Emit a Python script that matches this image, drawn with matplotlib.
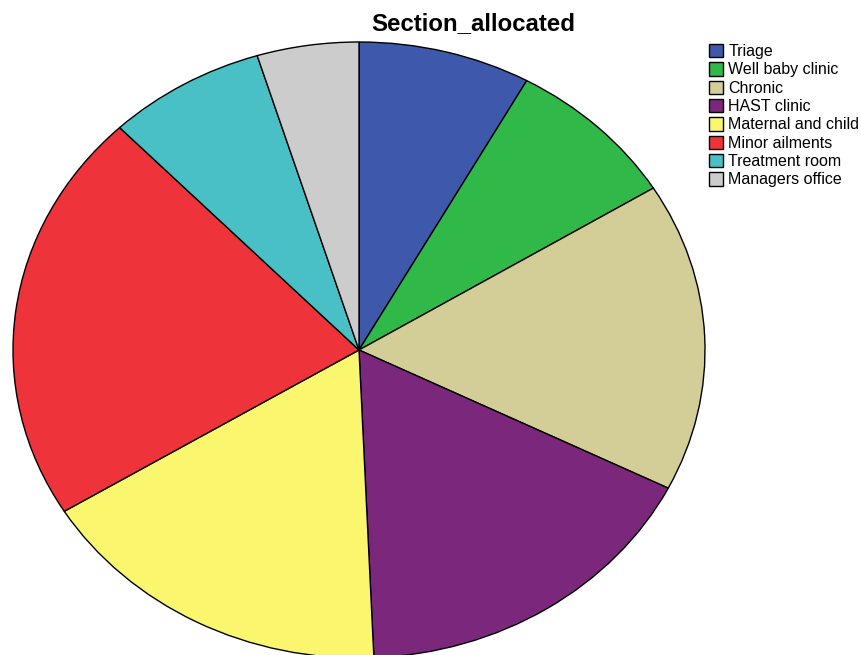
import matplotlib
matplotlib.use("Agg")
import matplotlib.pyplot as plt

plt.rcParams['font.family'] = ['Liberation Sans', 'DejaVu Sans']

categories = ["Triage", "Well baby clinic", "Chronic", "HAST clinic",
              "Maternal and child", "Minor ailments", "Treatment room", "Managers office"]
values = [8.05, 8.13, 16.2, 16.9, 16.9, 21.6, 7.4, 4.75]
colors = ["#3E58AC", "#30B848", "#D3CE98", "#7B287C", "#FAF76E", "#EF333A", "#48C0C6", "#CCCCCC"]

W, H = 861, 655
fig = plt.figure(figsize=(W / 100, H / 100), dpi=100)
# ellipse: x 13..705, y 42..658 (pixels from top)
ax = fig.add_axes([13 / W, (H - 658) / H, 692 / W, 616 / H])
wedges, _ = ax.pie(values, colors=colors, startangle=90, counterclock=False,
                   radius=1, wedgeprops=dict(edgecolor="black", linewidth=1.0))
ax.set_aspect('auto')
ax.set_xlim(-1, 1)
ax.set_ylim(-1, 1)
ax.axis('off')

fig.text(473 / W, 1 - 24 / H, "Section_allocated", ha="center", va="center",
         fontsize=17.3, fontweight="bold")

leg = fig.legend(wedges, categories, loc="upper left",
                 bbox_to_anchor=(709 / W, 1 - 44 / H), frameon=False,
                 fontsize=11.5, handlelength=0.9, handleheight=0.9,
                 handletextpad=0.3, labelspacing=0.2, borderpad=0,
                 borderaxespad=0)

fig.savefig("out.png", dpi=100)
